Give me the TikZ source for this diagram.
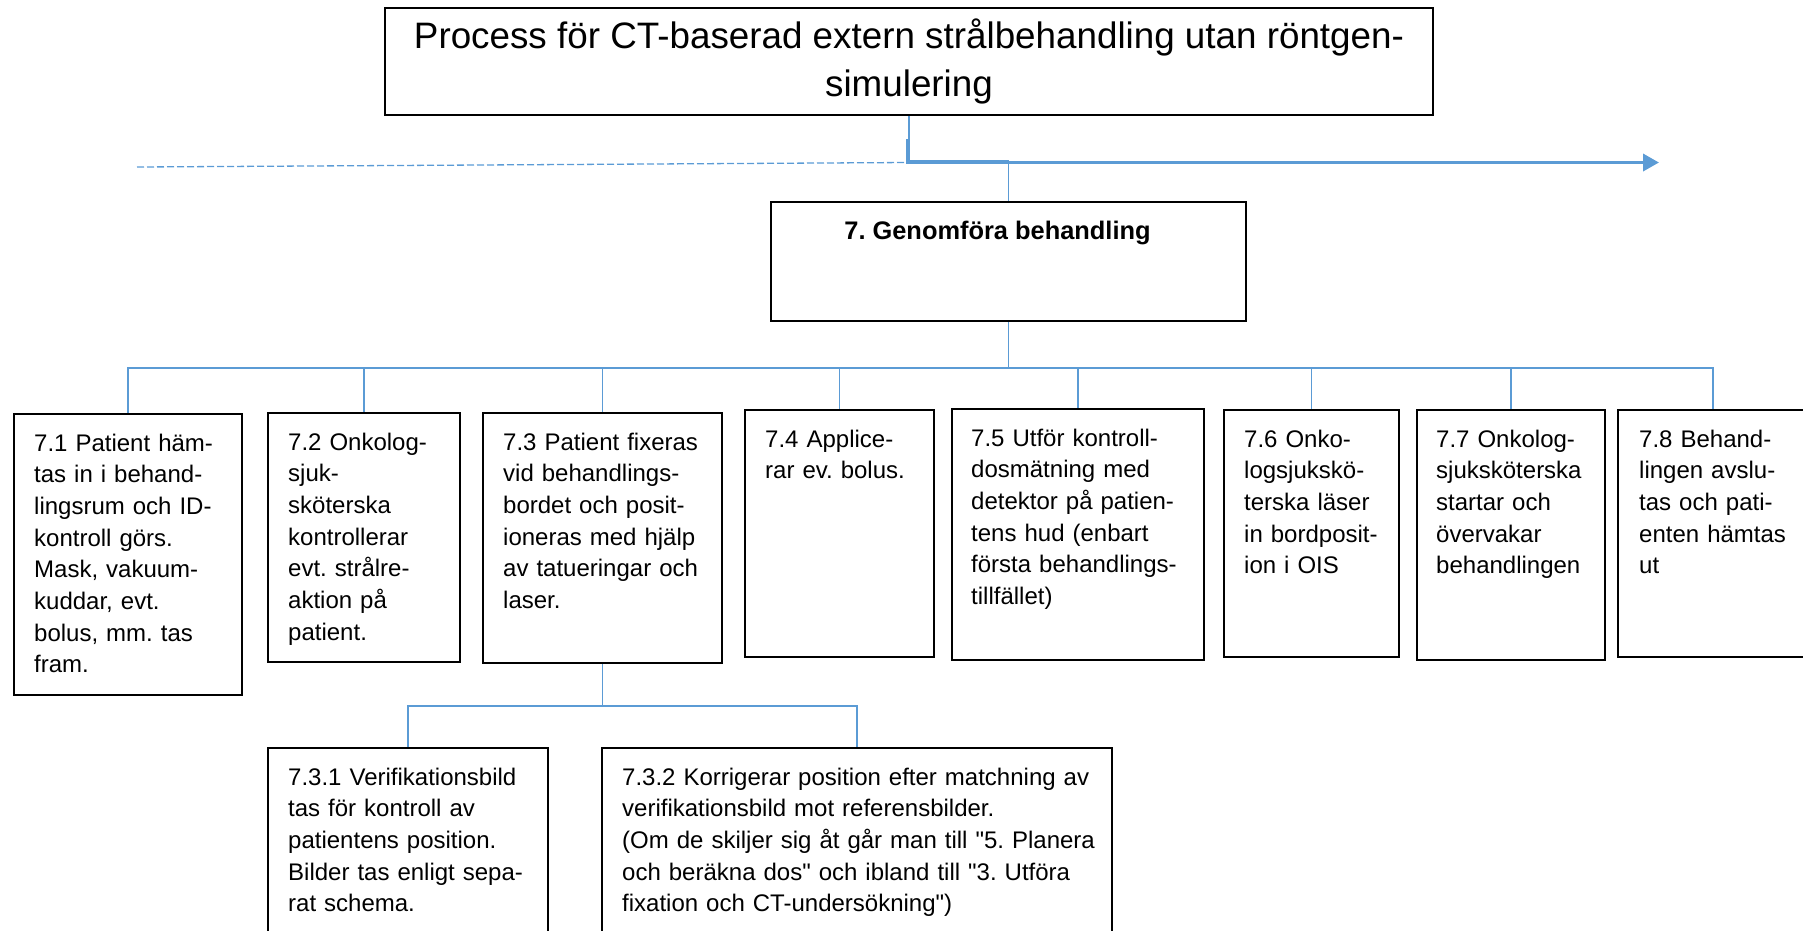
\documentclass[tikz,border=0pt]{standalone}
\usepackage{fontspec}
\setmainfont{Liberation Sans}
\frenchspacing
\usetikzlibrary{arrows.meta}
\definecolor{linkblue}{HTML}{5B9BD5}
\tikzset{
    box/.style={draw=black, line width=2pt, anchor=north west, inner sep=0pt},
    txt/.style={anchor=base west, inner sep=0pt, text width=560pt, align=left,
        font=\fontsize{24}{31.7}\selectfont},
    conn/.style={draw=linkblue, line width=1.5pt}
}
\begin{document}
\begin{tikzpicture}[x=1pt, y=-1pt]
            \useasboundingbox (0,0) rectangle (1803,930);
            \clip (0,0) rectangle (1803,930);
            % title and time line
            \node[box, minimum width=1048, minimum height=107, align=center,
                font=\fontsize{36.8}{48.7}\selectfont] (title) at (384,7)
                {Process för CT-baserad extern strålbehandling utan röntgen-\\simulering};
            \coordinate (dl) at (137,167);
            \coordinate (tl) at (908,162.5);
            \coordinate (tlend) at (1659,162.5);
            \draw[linkblue, line width=1.3pt, dash pattern=on 7pt off 3pt] (dl) -- (tl);
            \draw[linkblue, line width=3.5pt, -{Triangle[length=16pt,width=17pt]}]
                ([yshift=24pt]tl) -- (tl) -- (tlend);
            % level 1
            \node[box, minimum width=475, minimum height=119] (gen) at (770,201) {};
            \node[anchor=base, inner sep=0pt, font=\fontsize{25.4}{31.7}\selectfont\bfseries]
                (gentxt) at ([shift={(-11,38)}]gen.north) {7. Genomföra behandling};
            \draw[conn] (title.south) -- ++(0,45) -| (gen.north);
            % level 2
            \node[box, minimum width=228, minimum height=281] (b71) at (13,413) {};
            \node[box, minimum width=192, minimum height=249] (b72) at (267,412) {};
            \node[box, minimum width=239, minimum height=250] (b73) at (482,412) {};
            \node[box, minimum width=189, minimum height=247] (b74) at (744,409) {};
            \node[box, minimum width=252, minimum height=251] (b75) at (951,408) {};
            \node[box, minimum width=175, minimum height=247] (b76) at (1223,409) {};
            \node[box, minimum width=188, minimum height=250] (b77) at (1416,409) {};
            \node[box, minimum width=190, minimum height=247] (b78) at (1617,409) {};
            \node[txt] (t71) at ([shift={(21,38)}]b71.north west) {7.1 Patient häm-\\tas in i behand-\\lingsrum och ID-\\kontroll görs.\\Mask, vakuum-\\kuddar, evt.\\bolus, mm. tas\\fram.};
            \node[txt] (t72) at ([shift={(21,38)}]b72.north west) {7.2 Onkolog-\\sjuk-\\sköterska\\kontrollerar\\evt. strålre-\\aktion på\\patient.};
            \node[txt] (t73) at ([shift={(21,38)}]b73.north west) {7.3 Patient fixeras\\vid behandlings-\\bordet och posit-\\ioneras med hjälp\\av tatueringar och\\laser.};
            \node[txt] (t74) at ([shift={(21,38)}]b74.north west) {7.4 Applice-\\rar ev. bolus.};
            \node[txt] (t75) at ([shift={(20,38)}]b75.north west) {7.5 Utför kontroll-\\dosmätning med\\detektor på patien-\\tens hud (enbart\\första behandlings-\\tillfället)};
            \node[txt] (t76) at ([shift={(21,38)}]b76.north west) {7.6 Onko-\\logsjukskö-\\terska läser\\in bordposit-\\ion i OIS};
            \node[txt] (t77) at ([shift={(20,38)}]b77.north west) {7.7 Onkolog-\\sjuksköterska\\startar och\\övervakar\\behandlingen};
            \node[txt] (t78) at ([shift={(22,38)}]b78.north west) {7.8 Behand-\\lingen avslu-\\tas och pati-\\enten hämtas\\ut};
            \foreach \n in {b71,b72,b73,b74,b75,b76,b77,b78}{
                \draw[conn] (gen.south) -- ++(0,46) -| (\n.north);
            }
            % level 3
            \node[box, minimum width=280, minimum height=230] (b731) at (267,747) {};
            \node[box, minimum width=510, minimum height=230] (b732) at (601,747) {};
            \node[txt] (t731) at ([shift={(21,38)}]b731.north west) {7.3.1 Verifikationsbild\\tas för kontroll av\\patientens position.\\Bilder tas enligt sepa-\\rat schema.};
            \node[txt] (t732) at ([shift={(21,38)}]b732.north west) {7.3.2 Korrigerar position efter matchning av\\verifikationsbild mot referensbilder.\\(Om de skiljer sig åt går man till \textquotedbl 5. Planera\\och beräkna dos\textquotedbl\ och ibland till \textquotedbl 3. Utföra\\fixation och CT-undersökning\textquotedbl)};
            \foreach \n in {b731,b732}{
                \draw[conn] (b73.south) -- ++(0,42) -| (\n.north);
            }
        \end{tikzpicture}
\end{document}
